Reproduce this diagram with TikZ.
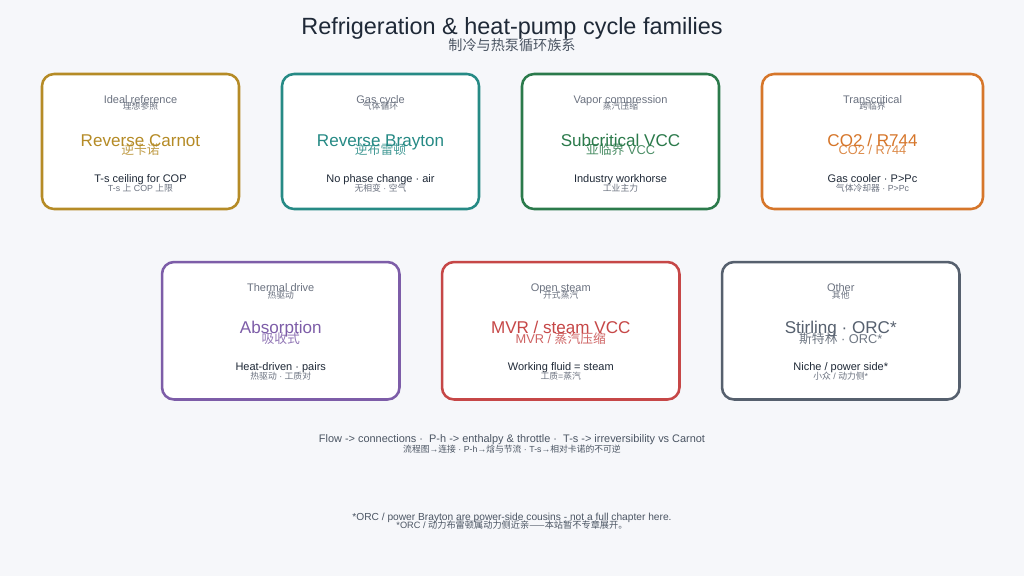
\documentclass[tikz,border=0pt]{standalone}
\usepackage{fontspec}
\setmainfont{Liberation Sans}
\newfontfamily\cjk{Noto Sans CJK SC}

\definecolor{cbg}{RGB}{246,247,250}
\definecolor{cink}{RGB}{31,41,55}
\definecolor{cgray}{RGB}{107,114,128}
\definecolor{cdim}{RGB}{75,85,99}
\definecolor{cgold}{RGB}{181,139,38}
\definecolor{cteal}{RGB}{38,138,133}
\definecolor{cgreen}{RGB}{43,122,75}
\definecolor{corange}{RGB}{214,118,42}
\definecolor{cpurple}{RGB}{125,93,168}
\definecolor{cred}{RGB}{198,71,71}
\definecolor{cslate}{RGB}{86,96,110}

\tikzset{every picture/.style={line width=0.75pt}}
\tikzset{
  famcard/.style={draw, fill=white, line width=1.9pt, rounded corners=9pt, inner sep=0pt},
  famlabel/.style={anchor=base, inner sep=0pt, text=cgray, font=\fontsize{8.25}{10}\selectfont},
  famlabelzh/.style={anchor=base, inner sep=0pt, text=cgray, font=\fontsize{6.6}{8}\selectfont},
  famname/.style={anchor=base, inner sep=0pt, font=\fontsize{12.8}{15}\selectfont},
  famnamezh/.style={anchor=base, inner sep=0pt, text opacity=0.85, font=\fontsize{9.6}{11}\selectfont},
  famnote/.style={anchor=base, inner sep=0pt, text=cink, font=\fontsize{8.25}{10}\selectfont},
  famnotezh/.style={anchor=base, inner sep=0pt, text=cgray, font=\fontsize{6.6}{8}\selectfont},
}

\begin{document}
\begin{tikzpicture}[x=0.75pt,y=0.75pt,yscale=-1,xscale=1]
%set diagram size 1024 x 576
\path [fill=cbg] (0,0) rectangle (1024,576);

% Title
\draw (512,34.7) node [anchor=base][inner sep=0pt][text=cink][font=\fontsize{17.6}{20}\selectfont] (title) {Refrigeration \& heat-pump cycle families};
\draw (512,50) node [anchor=base][inner sep=0pt][text=cdim][font=\cjk\fontsize{10.6}{12}\selectfont] (titlezh) {制冷与热泵循环族系};

%Shape: Card [id:carnot]
\node [famcard, draw=cgold, minimum width=147.75pt, minimum height=101.25pt] (carnot) at (140.5,141.5) {};
%Shape: Card [id:brayton]
\node [famcard, draw=cteal, minimum width=147.75pt, minimum height=101.25pt] (brayton) at (380.5,141.5) {};
%Shape: Card [id:vcc]
\node [famcard, draw=cgreen, minimum width=147.75pt, minimum height=101.25pt] (vcc) at (620.5,141.5) {};
%Shape: Card [id:trans]
\node [famcard, draw=corange, minimum width=165.75pt, minimum height=101.25pt] (trans) at (872.5,141.5) {};
%Shape: Card [id:absorb]
\node [famcard, draw=cpurple, minimum width=178.1pt, minimum height=103.1pt] (absorb) at (280.75,330.75) {};
%Shape: Card [id:mvr]
\node [famcard, draw=cred, minimum width=178.1pt, minimum height=103.1pt] (mvr) at (560.75,330.75) {};
%Shape: Card [id:other]
\node [famcard, draw=cslate, minimum width=178.1pt, minimum height=103.1pt] (other) at (840.75,330.75) {};

% Text Node
\draw (140.5,103.3) node [famlabel] (carnotlbl) {Ideal reference};
\draw (140.5,109.5) node [famlabelzh] (carnotlblzh) {{\cjk 理想参照}};
\draw (140.5,146) node [famname, text=cgold] (carnotname) {Reverse Carnot};
\draw (140.5,154.5) node [famnamezh, text=cgold] (carnotnamezh) {{\cjk 逆卡诺}};
\draw (140.5,182.3) node [famnote] (carnotnote) {T-s ceiling for COP};
\draw (140.5,191) node [famnotezh] (carnotnotezh) {T-s {\cjk 上} COP {\cjk 上限}};
% Text Node
\draw (380.5,103.3) node [famlabel] (braytonlbl) {Gas cycle};
\draw (380.5,109.5) node [famlabelzh] (braytonlblzh) {{\cjk 气体循环}};
\draw (380.5,146) node [famname, text=cteal] (braytonname) {Reverse Brayton};
\draw (380.5,154.5) node [famnamezh, text=cteal] (braytonnamezh) {{\cjk 逆布雷顿}};
\draw (380.5,182.3) node [famnote] (braytonnote) {No phase change · air};
\draw (380.5,191) node [famnotezh] (braytonnotezh) {{\cjk 无相变} · {\cjk 空气}};
% Text Node
\draw (620.5,103.3) node [famlabel] (vcclbl) {Vapor compression};
\draw (620.5,109.5) node [famlabelzh] (vcclblzh) {{\cjk 蒸汽压缩}};
\draw (620.5,146) node [famname, text=cgreen] (vccname) {Subcritical VCC};
\draw (620.5,154.5) node [famnamezh, text=cgreen] (vccnamezh) {{\cjk 亚临界} VCC};
\draw (620.5,182.3) node [famnote] (vccnote) {Industry workhorse};
\draw (620.5,191) node [famnotezh] (vccnotezh) {{\cjk 工业主力}};
% Text Node
\draw (872.5,103.3) node [famlabel] (translbl) {Transcritical};
\draw (872.5,109.5) node [famlabelzh] (translblzh) {{\cjk 跨临界}};
\draw (872.5,146) node [famname, text=corange] (transname) {CO2 / R744};
\draw (872.5,154.5) node [famnamezh, text=corange] (transnamezh) {CO2 / R744};
\draw (872.5,182.3) node [famnote] (transnote) {Gas cooler · P>Pc};
\draw (872.5,191) node [famnotezh] (transnotezh) {{\cjk 气体冷却器} · P>Pc};
% Text Node
\draw (280.75,291) node [famlabel] (absorblbl) {Thermal drive};
\draw (280.75,298) node [famlabelzh] (absorblblzh) {{\cjk 热驱动}};
\draw (280.75,333.7) node [famname, text=cpurple] (absorbname) {Absorption};
\draw (280.75,343) node [famnamezh, text=cpurple] (absorbnamezh) {{\cjk 吸收式}};
\draw (280.75,370) node [famnote] (absorbnote) {Heat-driven · pairs};
\draw (280.75,379) node [famnotezh] (absorbnotezh) {{\cjk 热驱动} · {\cjk 工质对}};
% Text Node
\draw (560.75,291) node [famlabel] (mvrlbl) {Open steam};
\draw (560.75,298) node [famlabelzh] (mvrlblzh) {{\cjk 开式蒸汽}};
\draw (560.75,333.7) node [famname, text=cred] (mvrname) {MVR / steam VCC};
\draw (560.75,343) node [famnamezh, text=cred] (mvrnamezh) {MVR / {\cjk 蒸汽压缩}};
\draw (560.75,370) node [famnote] (mvrnote) {Working fluid = steam};
\draw (560.75,379) node [famnotezh] (mvrnotezh) {{\cjk 工质}={\cjk 蒸汽}};
% Text Node
\draw (840.75,291) node [famlabel] (otherlbl) {Other};
\draw (840.75,298) node [famlabelzh] (otherlblzh) {{\cjk 其他}};
\draw (840.75,333.7) node [famname, text=cslate] (othername) {Stirling · ORC*};
\draw (840.75,343) node [famnamezh, text=cslate] (othernamezh) {{\cjk 斯特林} · ORC*};
\draw (840.75,370) node [famnote] (othernote) {Niche / power side*};
\draw (840.75,379) node [famnotezh] (othernotezh) {{\cjk 小众} / {\cjk 动力侧}*};

% Text Node
\draw (512,442.3) node [anchor=base][inner sep=0pt][text=cdim][font=\fontsize{8.2}{9}\selectfont] (legend) {Flow -> connections ·\ \ P-h -> enthalpy \& throttle ·\ \ T-s -> irreversibility vs Carnot};
\draw (512,452) node [anchor=base][inner sep=0pt][text=cdim][font=\fontsize{6.6}{8}\selectfont] (legendzh) {{\cjk 流程图}→{\cjk 连接} · P-h→{\cjk 焓与节流} · T-s→{\cjk 相对卡诺的不可逆}};
% Text Node
\draw (512,520) node [anchor=base][inner sep=0pt][text=cdim][font=\fontsize{7.65}{9}\selectfont] (footnote) {*ORC / power Brayton are power-side cousins - not a full chapter here.};
\draw (512,528.5) node [anchor=base][inner sep=0pt][text=cdim][font=\fontsize{6.9}{8}\selectfont] (footnotezh) {*ORC / {\cjk 动力布雷顿属动力侧近亲——本站暂不专章展开。}};

\end{tikzpicture}
\end{document}
